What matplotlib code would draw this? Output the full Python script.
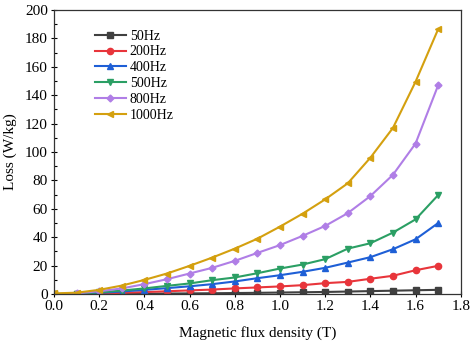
import numpy as np
import matplotlib.pyplot as plt
from matplotlib.ticker import MultipleLocator

plt.rcParams['font.family'] = ['Liberation Serif', 'DejaVu Serif']

b = [0.0, 0.1, 0.2, 0.3, 0.4, 0.5, 0.6, 0.7, 0.8, 0.9,
     1.0, 1.1, 1.2, 1.3, 1.4, 1.5, 1.6, 1.7]

loss_50 = [0.0, 0.05, 0.1, 0.2, 0.3, 0.4, 0.5, 0.6, 0.75, 0.9,
           1.1, 1.3, 1.5, 1.8, 2.1, 2.4, 2.7, 3.0]
loss_200 = [0.0, 0.1, 0.5, 0.9, 1.4, 2.0, 2.6, 3.2, 4.0, 4.7,
            5.4, 6.3, 7.7, 8.6, 10.8, 12.9, 16.8, 19.9]
loss_400 = [0.0, 0.2, 0.9, 1.8, 3.0, 4.2, 5.5, 7.0, 8.9, 11.2,
            13.3, 15.7, 18.5, 22.2, 26.0, 31.6, 38.6, 50.0]
loss_500 = [0.0, 0.3, 1.2, 2.5, 4.0, 5.8, 7.5, 9.8, 11.7, 14.7,
            18.0, 20.8, 24.6, 32.0, 35.8, 43.3, 52.6, 69.7]
loss_800 = [0.0, 0.5, 2.0, 4.0, 7.0, 10.5, 14.5, 18.5, 23.4, 29.0,
            34.5, 41.0, 48.0, 57.0, 69.0, 84.0, 106.0, 147.0]
loss_1000 = [0.5, 1.0, 3.0, 6.0, 10.0, 14.5, 19.9, 25.7, 32.0, 39.0,
             47.5, 56.6, 66.7, 78.0, 96.0, 117.0, 149.5, 186.5]

labels = ['50Hz', '200Hz', '400Hz', '500Hz', '800Hz', '1000Hz']
series = [loss_50, loss_200, loss_400, loss_500, loss_800, loss_1000]
colors = ['#404040', '#e8353b', '#1e5fd6', '#2b9f64', '#b07ee6', '#d4a00f']
markers = ['s', 'o', '^', 'v', 'D', '<']
msizes = [4, 4.5, 4.5, 4.5, 3.5, 4.5]

fig = plt.figure(figsize=(4.74, 3.46), dpi=100)
ax = fig.add_axes([0.114, 0.150, 0.858, 0.821])

for y, lab, c, m, ms in zip(series, labels, colors, markers, msizes):
    ax.plot(b, y, color=c, marker=m, markersize=ms, linewidth=1.5, label=lab)

ax.set_xlim(0, 1.8)
ax.set_ylim(0, 200)
ax.xaxis.set_major_locator(MultipleLocator(0.2))
ax.xaxis.set_minor_locator(MultipleLocator(0.1))
ax.yaxis.set_major_locator(MultipleLocator(20))
ax.yaxis.set_minor_locator(MultipleLocator(10))
ax.tick_params(axis='both', which='major', direction='inout', labelsize=11,
               length=5, width=0.8, pad=2)
ax.tick_params(axis='both', which='minor', direction='in', length=2.5, width=0.8)
for s in ax.spines.values():
    s.set_linewidth(0.9)
    s.set_color('#333333')

ax.set_xlabel('Magnetic flux density (T)', fontsize=11, labelpad=9)
ax.set_ylabel('Loss (W/kg)', fontsize=11, labelpad=6)

ax.legend(loc='upper left', bbox_to_anchor=(0.07, 0.975), frameon=False,
          fontsize=10, handlelength=2.2, labelspacing=0.2, handletextpad=0.3)

fig.savefig('out.png', dpi=100)
